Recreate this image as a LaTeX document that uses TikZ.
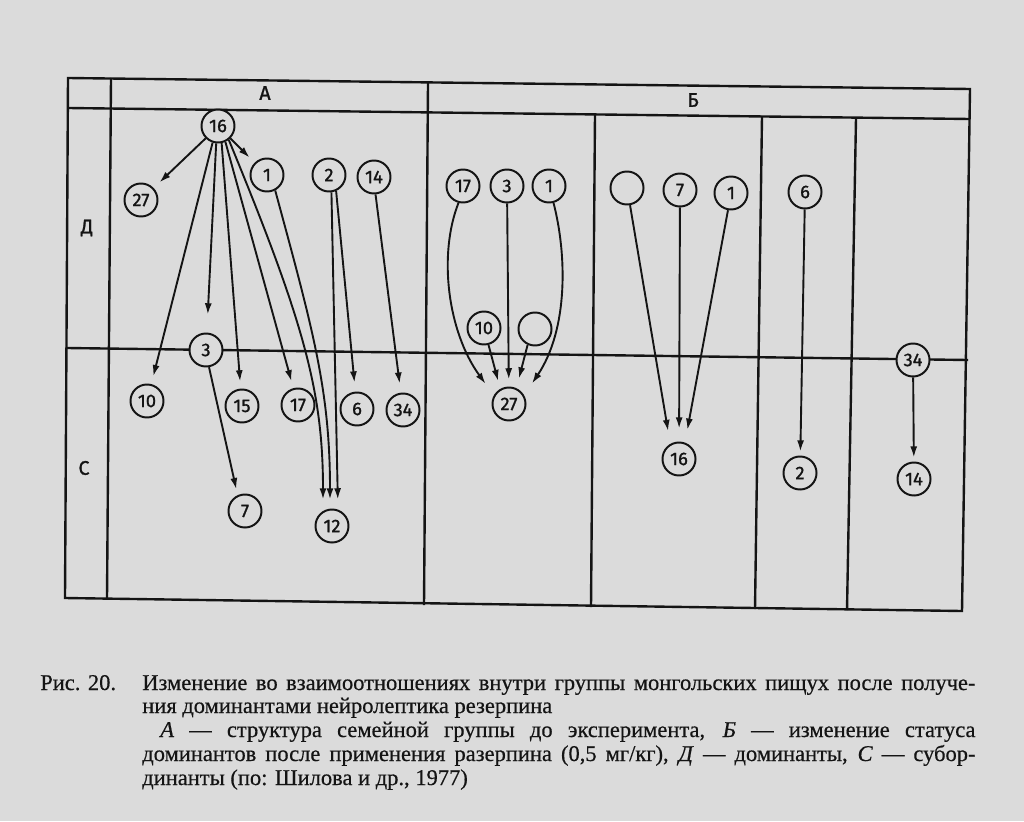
\documentclass[tikz,border=0pt]{standalone}
\usepackage{fontspec}
\setmainfont{Liberation Serif}[FakeBold=0.5]
\newfontfamily\handfont{Fira Sans}[FakeBold=1.2]
\usepackage{xcolor}
\usetikzlibrary{arrows.meta, calc}
\definecolor{paper}{gray}{0.86}
\definecolor{ink}{gray}{0.08}

\begin{document}
\begin{tikzpicture}[
  x=0.025cm, y=-0.025cm,
  ind/.style={circle, draw=ink, line width=1.4pt, fill=paper,
              minimum size=0.825cm, inner sep=0pt, text=ink,
              font=\handfont\fontsize{13}{14}\selectfont},
  lbl/.style={font=\handfont\fontsize{14}{15}\selectfont, text=ink, inner sep=0pt},
  tabline/.style={draw=ink, line width=1.7pt},
  arr/.style={-{Latex[length=8pt,width=5pt]}, draw=ink, line width=1.35pt,
              shorten >=5pt},
  capline/.style={anchor=base west, inner sep=0pt, text=ink,
                  font=\fontsize{16}{17}\selectfont}
]
%% page
\fill[paper] (0,0) rectangle (1024,821);
\useasboundingbox (0,0) rectangle (1024,821);
%% table (scan is slightly tilted)
\draw[tabline] (68,78) -- (970,89) -- (962,611) -- (65,598) -- cycle;
\draw[tabline] (68,108) -- (970,119);
\draw[tabline] (67,348) -- (968,360);
\draw[tabline] (111,78) -- (107,599);
\draw[tabline] (428,83) -- (424,605);
\draw[tabline] (595,114) -- (591,607);
\draw[tabline] (762,116) -- (755,609);
\draw[tabline] (856,118) -- (847,610);
%% headers
\node[lbl] (hA) at (265,93)  {А};
\node[lbl] (hB) at (693,100) {Б};
\node[lbl] (rD) at (87,228)  {Д};
\node[lbl] (rS) at (84,468)  {С};
%% group A
\node[ind] (a16) at (218,126) {16};
\node[ind] (a27) at (141,200) {27};
\node[ind] (a1)  at (267,175) {1};
\node[ind] (a2)  at (329,175) {2};
\node[ind] (a14) at (374,177) {14};
\node[ind] (a3)  at (206,350) {3};
\node[ind] (a10) at (147,401) {10};
\node[ind] (a15) at (242,406) {15};
\node[ind] (a17) at (298,405) {17};
\node[ind] (a6)  at (357,409) {6};
\node[ind] (a34) at (403,410) {34};
\node[ind] (a7)  at (245,511) {7};
\node[ind] (a12) at (332,526) {12};
%% group B, four columns
\node[ind] (b17) at (463,186) {17};
\node[ind] (b3)  at (507,186) {3};
\node[ind] (b1)  at (549,186) {1};
\node[ind] (b10) at (484,328) {10};
\node[ind] (bx)  at (535,329) {};
\node[ind] (b27) at (509,404) {27};
\node[ind] (c0)  at (627,188) {};
\node[ind] (c7)  at (680,190) {7};
\node[ind] (c1)  at (731,193) {1};
\node[ind] (c16) at (679,459) {16};
\node[ind] (d6)  at (805,192) {6};
\node[ind] (d2)  at (800,473) {2};
\node[ind] (e34) at (913,360) {34};
\node[ind] (e14) at (914,479) {14};
%% arrows, group A
\draw[arr, shorten >=5.7pt] (a16.-135) -- (a27);
\draw[arr] (a16) -- (a1);
\draw[arr, shorten >=5.7pt] (a16.-108) -- (a10);
\draw[arr, shorten >=12.8pt] (a16.-96) -- (a3);
\draw[arr] (a16.-78) -- (a15);
\draw[arr] (a16.-65) -- (a17);
\draw[arr, shorten >=6.4pt] (a16.-52) .. controls (303,320) and (323,390) .. ($(a12.north)+(-9,0)$);
\draw[arr, shorten >=6.4pt] (a1.-62) .. controls (313,330) and (330,390) .. ($(a12.north)+(-2,0)$);
\draw[arr, shorten >=6.4pt] (a2.-82) -- ($(a12.north)+(6,0)$);
\draw[arr, shorten >=6.4pt] (a2.-66) -- (a6);
\draw[arr, shorten >=6.4pt] (a14.-85) -- (a34);
\draw[arr, shorten >=4.3pt] (a3.-80) -- (a7.115);
%% arrows, group B
\draw[arr, shorten >=10pt] (b17.-105) .. controls (438,255) and (447.7,331.8) .. (b27.150);
\draw[arr] (b3) -- (b27);
\draw[arr, shorten >=5.7pt] (b10.-75) -- (b27.120);
\draw[arr, shorten >=7pt] (bx.-115) -- (b27.65);
\draw[arr, shorten >=10pt] (b1.-75) .. controls (567,255) and (568.3,329.3) .. (b27.30);
\draw[arr, shorten >=9.2pt] (c0.-80) -- (c16.120);
\draw[arr, shorten >=9.2pt] (c7) -- (c16);
\draw[arr, shorten >=9.2pt] (c1.-100) -- (c16.70);
\draw[arr, shorten >=2.8pt] (d6) -- (d2);
\draw[arr, shorten >=2.8pt] (e34) -- (e14);
%% caption
\node[capline] (fig)  at (40,690)  {Рис. 20.};
\node[capline] (cap1) at (142,690) {\makebox[20.825cm][s]{Изменение во взаимоотношениях внутри группы монгольских пищух после получе-}};
\node[capline] (cap2) at (142,713) {ния доминантами нейролептика резерпина};
\node[capline] (cap3) at (160,737) {\makebox[20.375cm][s]{\textit{А} — структура семейной группы до эксперимента, \textit{Б} — изменение статуса}};
\node[capline] (cap4) at (142,761) {\makebox[20.825cm][s]{доминантов после применения разерпина (0,5 мг/кг), \textit{Д} — доминанты, \textit{С} — субор-}};
\node[capline] (cap5) at (142,785) {динанты (по: Шилова и др., 1977)};
\end{tikzpicture}
\end{document}
